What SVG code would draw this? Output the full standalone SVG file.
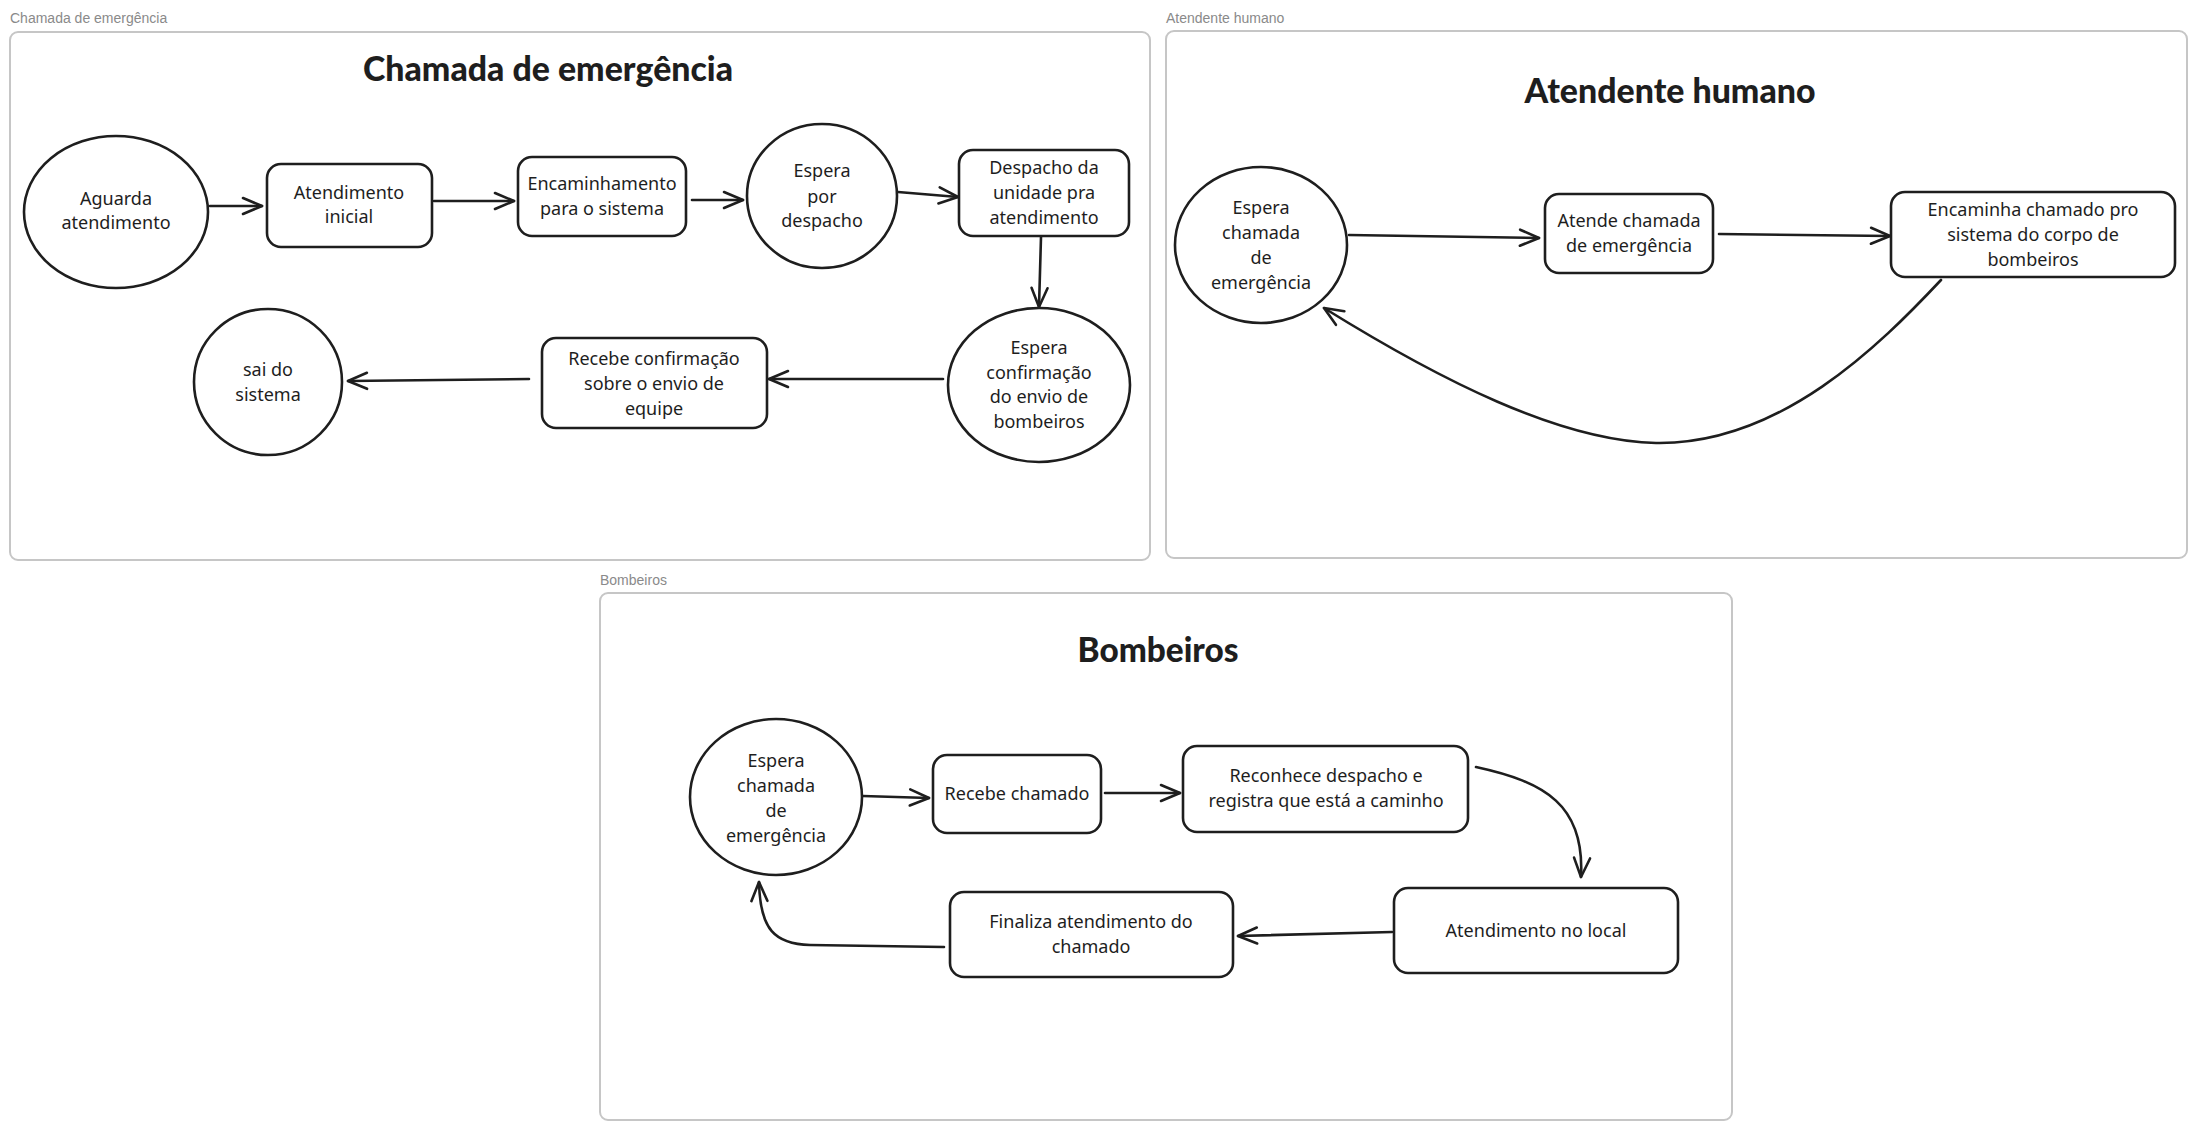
<svg xmlns="http://www.w3.org/2000/svg" width="2198" height="1130" viewBox="0 0 2198 1130">
<defs>
<style>
.frame{fill:#fff;stroke:#c6c6c6;stroke-width:2}
.flabel{font-family:"Liberation Sans",Arial,sans-serif;font-size:14px;fill:#8a8a8a}
.title{font-family:"Lato","Liberation Sans",sans-serif;font-weight:900;font-size:34px;fill:#1e1e1e;text-anchor:middle}
.n{fill:#fff;stroke:#1e1e1e;stroke-width:2.6}
.t{font-family:"Noto Sans","Open Sans",sans-serif;font-size:18px;fill:#1e1e1e;text-anchor:middle}
.c{fill:none;stroke:#1e1e1e;stroke-width:2.6;stroke-linecap:round;marker-end:url(#arr)}
</style>
<marker id="arr" viewBox="0 0 24 24" refX="22" refY="12" markerWidth="24" markerHeight="24" markerUnits="userSpaceOnUse" orient="auto">
<path d="M3,4 L22,12 L3,20" fill="none" stroke="#1e1e1e" stroke-width="2.6" stroke-linecap="round" stroke-linejoin="round"/>
</marker>
</defs>
<rect width="2198" height="1130" fill="#fff"/>

<g id="frame-chamada">
<rect class="frame" x="10" y="32" width="1140" height="528" rx="8"/>
<text class="flabel" x="10" y="23">Chamada de emergência</text>
<text class="title" x="548" y="81" textLength="370" lengthAdjust="spacingAndGlyphs">Chamada de emergência</text>
</g>
<g id="frame-atendente">
<rect class="frame" x="1166" y="31" width="1021" height="527" rx="8"/>
<text class="flabel" x="1166" y="23">Atendente humano</text>
<text class="title" x="1670" y="103" textLength="291" lengthAdjust="spacingAndGlyphs">Atendente humano</text>
</g>
<g id="frame-bombeiros">
<rect class="frame" x="600" y="593" width="1132" height="527" rx="8"/>
<text class="flabel" x="600" y="585">Bombeiros</text>
<text class="title" x="1158" y="662" textLength="161" lengthAdjust="spacingAndGlyphs">Bombeiros</text>
</g>

<g id="connectors">
<path class="c" d="M210,206 L262,206"/>
<path class="c" d="M434,201 L514,201"/>
<path class="c" d="M692,200 L743,200"/>
<path class="c" d="M898,192 L958,197"/>
<path class="c" d="M1041,237 L1039,307"/>
<path class="c" d="M943,379 L769,379"/>
<path class="c" d="M529,379 L348,381"/>

<path class="c" d="M1349,235 L1539,238"/>
<path class="c" d="M1719,234 L1890,236"/>
<path class="c" d="M1941,280 C1880,345 1780,445 1656,443 C1560,441 1440,380 1324,308"/>

<path class="c" d="M863,796 L929,798"/>
<path class="c" d="M1105,793 L1180,793"/>
<path class="c" d="M1476,767 C1545,782 1585,805 1581,877"/>
<path class="c" d="M1392,932 L1238,936"/>
<path class="c" d="M944,947 L810,945 C775,944 760,930 759,882"/>
</g>

<g id="n-aguarda">
<ellipse class="n" cx="116" cy="212" rx="92" ry="76"/>
<text class="t" x="116" y="205">Aguarda</text>
<text class="t" x="116" y="229">atendimento</text>
</g>
<g id="n-atendimento-inicial">
<rect class="n" x="267" y="164" width="165" height="83" rx="14"/>
<text class="t" x="349" y="199">Atendimento</text>
<text class="t" x="349" y="223">inicial</text>
</g>
<g id="n-encaminhamento">
<rect class="n" x="518" y="157" width="168" height="79" rx="14"/>
<text class="t" x="602" y="190">Encaminhamento</text>
<text class="t" x="602" y="215">para o sistema</text>
</g>
<g id="n-espera-despacho">
<ellipse class="n" cx="822" cy="196" rx="75" ry="72"/>
<text class="t" x="822" y="177">Espera</text>
<text class="t" x="822" y="203">por</text>
<text class="t" x="822" y="227">despacho</text>
</g>
<g id="n-despacho">
<rect class="n" x="959" y="150" width="170" height="86" rx="14"/>
<text class="t" x="1044" y="174">Despacho da</text>
<text class="t" x="1044" y="199">unidade pra</text>
<text class="t" x="1044" y="224">atendimento</text>
</g>
<g id="n-espera-confirmacao">
<ellipse class="n" cx="1039" cy="385" rx="91" ry="77"/>
<text class="t" x="1039" y="354">Espera</text>
<text class="t" x="1039" y="379">confirmação</text>
<text class="t" x="1039" y="403">do envio de</text>
<text class="t" x="1039" y="428">bombeiros</text>
</g>
<g id="n-recebe-confirmacao">
<rect class="n" x="542" y="338" width="225" height="90" rx="14"/>
<text class="t" x="654" y="365">Recebe confirmação</text>
<text class="t" x="654" y="390">sobre o envio de</text>
<text class="t" x="654" y="415">equipe</text>
</g>
<g id="n-sai">
<ellipse class="n" cx="268" cy="382" rx="74" ry="73"/>
<text class="t" x="268" y="376">sai do</text>
<text class="t" x="268" y="401">sistema</text>
</g>

<g id="a-espera-chamada">
<ellipse class="n" cx="1261" cy="245" rx="86" ry="78"/>
<text class="t" x="1261" y="214">Espera</text>
<text class="t" x="1261" y="239">chamada</text>
<text class="t" x="1261" y="264">de</text>
<text class="t" x="1261" y="289">emergência</text>
</g>
<g id="a-atende">
<rect class="n" x="1545" y="194" width="168" height="79" rx="14"/>
<text class="t" x="1629" y="227">Atende chamada</text>
<text class="t" x="1629" y="252">de emergência</text>
</g>
<g id="a-encaminha">
<rect class="n" x="1891" y="192" width="284" height="85" rx="14"/>
<text class="t" x="2033" y="216">Encaminha chamado pro</text>
<text class="t" x="2033" y="241">sistema do corpo de</text>
<text class="t" x="2033" y="266">bombeiros</text>
</g>

<g id="b-espera-chamada">
<ellipse class="n" cx="776" cy="797" rx="86" ry="78"/>
<text class="t" x="776" y="767">Espera</text>
<text class="t" x="776" y="792">chamada</text>
<text class="t" x="776" y="817">de</text>
<text class="t" x="776" y="842">emergência</text>
</g>
<g id="b-recebe">
<rect class="n" x="933" y="755" width="168" height="78" rx="14"/>
<text class="t" x="1017" y="800">Recebe chamado</text>
</g>
<g id="b-reconhece">
<rect class="n" x="1183" y="746" width="285" height="86" rx="14"/>
<text class="t" x="1326" y="782">Reconhece despacho e</text>
<text class="t" x="1326" y="807">registra que está a caminho</text>
</g>
<g id="b-atendimento-local">
<rect class="n" x="1394" y="888" width="284" height="85" rx="14"/>
<text class="t" x="1536" y="937">Atendimento no local</text>
</g>
<g id="b-finaliza">
<rect class="n" x="950" y="892" width="283" height="85" rx="14"/>
<text class="t" x="1091" y="928">Finaliza atendimento do</text>
<text class="t" x="1091" y="953">chamado</text>
</g>
</svg>
